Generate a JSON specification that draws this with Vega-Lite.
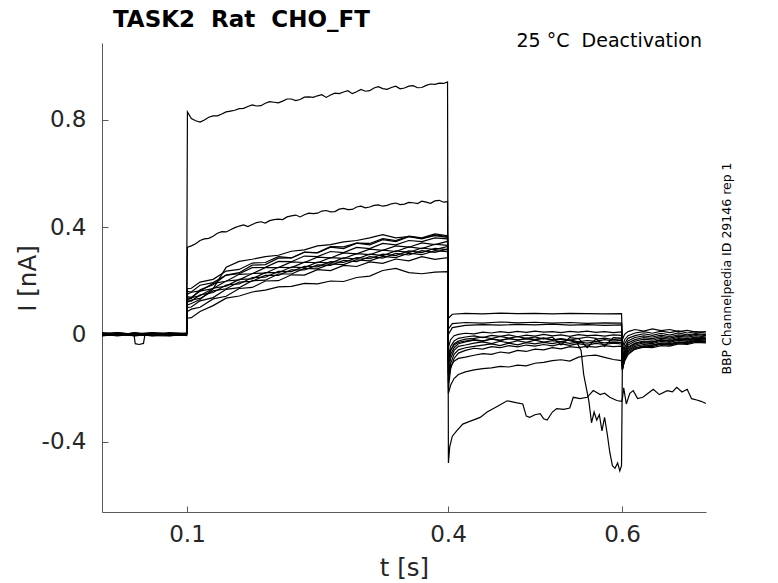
{
  "$schema": "https://vega.github.io/schema/vega-lite/v6.json",
  "width": 604,
  "height": 469,
  "autosize": "none",
  "padding": {"left": 102, "top": 43, "right": 72, "bottom": 71},
  "background": "white",
  "data": {
    "values": [
      {"s":1,"t":0.0023,"i":0.004},{"s":1,"t":0.02,"i":-0.003},{"s":1,"t":0.04,"i":0.005},{"s":1,"t":0.06,"i":-0.002},{"s":1,"t":0.08,"i":0.003},{"s":1,"t":0.0995,"i":0.001},
      {"s":1,"t":0.1005,"i":0.83},{"s":1,"t":0.105,"i":0.805},{"s":1,"t":0.11,"i":0.797},{"s":1,"t":0.12,"i":0.8},{"s":1,"t":0.13,"i":0.815},{"s":1,"t":0.14,"i":0.822},{"s":1,"t":0.15,"i":0.833},{"s":1,"t":0.16,"i":0.842},{"s":1,"t":0.17,"i":0.85},{"s":1,"t":0.18,"i":0.852},{"s":1,"t":0.19,"i":0.862},{"s":1,"t":0.2,"i":0.866},{"s":1,"t":0.21,"i":0.87},{"s":1,"t":0.22,"i":0.878},{"s":1,"t":0.23,"i":0.876},{"s":1,"t":0.24,"i":0.886},{"s":1,"t":0.25,"i":0.89},{"s":1,"t":0.26,"i":0.884},{"s":1,"t":0.27,"i":0.9},{"s":1,"t":0.28,"i":0.904},{"s":1,"t":0.29,"i":0.898},{"s":1,"t":0.3,"i":0.914},{"s":1,"t":0.31,"i":0.909},{"s":1,"t":0.32,"i":0.924},{"s":1,"t":0.33,"i":0.914},{"s":1,"t":0.34,"i":0.926},{"s":1,"t":0.35,"i":0.919},{"s":1,"t":0.36,"i":0.928},{"s":1,"t":0.37,"i":0.921},{"s":1,"t":0.38,"i":0.934},{"s":1,"t":0.39,"i":0.937},{"s":1,"t":0.3995,"i":0.942},
      {"s":1,"t":0.115,"i":0.792},{"s":1,"t":0.125,"i":0.81},{"s":1,"t":0.135,"i":0.815},{"s":1,"t":0.145,"i":0.83},{"s":1,"t":0.155,"i":0.836},{"s":1,"t":0.165,"i":0.843},{"s":1,"t":0.175,"i":0.856},{"s":1,"t":0.185,"i":0.853},{"s":1,"t":0.195,"i":0.868},{"s":1,"t":0.205,"i":0.864},{"s":1,"t":0.215,"i":0.878},{"s":1,"t":0.225,"i":0.872},{"s":1,"t":0.235,"i":0.885},{"s":1,"t":0.245,"i":0.884},{"s":1,"t":0.255,"i":0.894},{"s":1,"t":0.265,"i":0.893},{"s":1,"t":0.275,"i":0.898},{"s":1,"t":0.285,"i":0.909},{"s":1,"t":0.295,"i":0.905},{"s":1,"t":0.305,"i":0.907},{"s":1,"t":0.315,"i":0.919},{"s":1,"t":0.325,"i":0.917},{"s":1,"t":0.335,"i":0.921},{"s":1,"t":0.345,"i":0.916},{"s":1,"t":0.355,"i":0.926},{"s":1,"t":0.365,"i":0.92},{"s":1,"t":0.375,"i":0.929},{"s":1,"t":0.385,"i":0.933},{"s":1,"t":0.395,"i":0.936},
      {"s":1,"t":0.4005,"i":-0.48},{"s":1,"t":0.402,"i":-0.42},{"s":1,"t":0.405,"i":-0.38},{"s":1,"t":0.41,"i":-0.36},{"s":1,"t":0.417,"i":-0.335},{"s":1,"t":0.425,"i":-0.325},{"s":1,"t":0.437,"i":-0.31},{"s":1,"t":0.445,"i":-0.29},{"s":1,"t":0.456,"i":-0.27},{"s":1,"t":0.468,"i":-0.248},{"s":1,"t":0.478,"i":-0.255},{"s":1,"t":0.486,"i":-0.26},{"s":1,"t":0.49,"i":-0.305},{"s":1,"t":0.494,"i":-0.31},{"s":1,"t":0.5,"i":-0.3},{"s":1,"t":0.506,"i":-0.296},{"s":1,"t":0.51,"i":-0.315},{"s":1,"t":0.514,"i":-0.32},{"s":1,"t":0.52,"i":-0.29},{"s":1,"t":0.525,"i":-0.277},{"s":1,"t":0.533,"i":-0.28},{"s":1,"t":0.54,"i":-0.275},{"s":1,"t":0.544,"i":-0.235},{"s":1,"t":0.552,"i":-0.24},{"s":1,"t":0.56,"i":-0.235},{"s":1,"t":0.567,"i":-0.21},{"s":1,"t":0.575,"i":-0.225},{"s":1,"t":0.58,"i":-0.22},{"s":1,"t":0.586,"i":-0.235},{"s":1,"t":0.594,"i":-0.247},{"s":1,"t":0.5995,"i":-0.25},
      {"s":1,"t":0.6005,"i":-0.24},{"s":1,"t":0.602,"i":-0.2},{"s":1,"t":0.605,"i":-0.26},{"s":1,"t":0.609,"i":-0.22},{"s":1,"t":0.613,"i":-0.21},{"s":1,"t":0.618,"i":-0.24},{"s":1,"t":0.624,"i":-0.235},{"s":1,"t":0.63,"i":-0.22},{"s":1,"t":0.636,"i":-0.205},{"s":1,"t":0.643,"i":-0.225},{"s":1,"t":0.652,"i":-0.21},{"s":1,"t":0.658,"i":-0.215},{"s":1,"t":0.663,"i":-0.198},{"s":1,"t":0.669,"i":-0.215},{"s":1,"t":0.675,"i":-0.205},{"s":1,"t":0.68,"i":-0.24},{"s":1,"t":0.686,"i":-0.245},{"s":1,"t":0.691,"i":-0.25},{"s":1,"t":0.6965,"i":-0.258},

      {"s":2,"t":0.0023,"i":-0.002},{"s":2,"t":0.02,"i":0.004},{"s":2,"t":0.04,"i":-0.003},{"s":2,"t":0.06,"i":0.003},{"s":2,"t":0.08,"i":-0.005},{"s":2,"t":0.0995,"i":-0.002},
      {"s":2,"t":0.1005,"i":0.325},{"s":2,"t":0.105,"i":0.33},{"s":2,"t":0.11,"i":0.338},{"s":2,"t":0.12,"i":0.356},{"s":2,"t":0.13,"i":0.366},{"s":2,"t":0.14,"i":0.383},{"s":2,"t":0.15,"i":0.39},{"s":2,"t":0.16,"i":0.404},{"s":2,"t":0.17,"i":0.402},{"s":2,"t":0.18,"i":0.417},{"s":2,"t":0.19,"i":0.415},{"s":2,"t":0.2,"i":0.428},{"s":2,"t":0.21,"i":0.428},{"s":2,"t":0.22,"i":0.442},{"s":2,"t":0.23,"i":0.438},{"s":2,"t":0.24,"i":0.452},{"s":2,"t":0.25,"i":0.452},{"s":2,"t":0.26,"i":0.462},{"s":2,"t":0.27,"i":0.458},{"s":2,"t":0.28,"i":0.47},{"s":2,"t":0.29,"i":0.466},{"s":2,"t":0.3,"i":0.478},{"s":2,"t":0.31,"i":0.475},{"s":2,"t":0.32,"i":0.483},{"s":2,"t":0.33,"i":0.481},{"s":2,"t":0.34,"i":0.49},{"s":2,"t":0.35,"i":0.486},{"s":2,"t":0.36,"i":0.491},{"s":2,"t":0.37,"i":0.497},{"s":2,"t":0.38,"i":0.489},{"s":2,"t":0.39,"i":0.5},{"s":2,"t":0.3995,"i":0.495},
      {"s":2,"t":0.115,"i":0.35},{"s":2,"t":0.125,"i":0.358},{"s":2,"t":0.135,"i":0.377},{"s":2,"t":0.145,"i":0.382},{"s":2,"t":0.155,"i":0.398},{"s":2,"t":0.165,"i":0.408},{"s":2,"t":0.175,"i":0.41},{"s":2,"t":0.185,"i":0.42},{"s":2,"t":0.195,"i":0.424},{"s":2,"t":0.205,"i":0.43},{"s":2,"t":0.215,"i":0.438},{"s":2,"t":0.225,"i":0.445},{"s":2,"t":0.235,"i":0.446},{"s":2,"t":0.245,"i":0.45},{"s":2,"t":0.255,"i":0.46},{"s":2,"t":0.265,"i":0.457},{"s":2,"t":0.275,"i":0.467},{"s":2,"t":0.285,"i":0.465},{"s":2,"t":0.295,"i":0.475},{"s":2,"t":0.305,"i":0.472},{"s":2,"t":0.315,"i":0.481},{"s":2,"t":0.325,"i":0.478},{"s":2,"t":0.335,"i":0.487},{"s":2,"t":0.345,"i":0.484},{"s":2,"t":0.355,"i":0.492},{"s":2,"t":0.365,"i":0.488},{"s":2,"t":0.375,"i":0.493},{"s":2,"t":0.385,"i":0.498},{"s":2,"t":0.395,"i":0.493},
      {"s":2,"t":0.4005,"i":-0.22},{"s":2,"t":0.403,"i":-0.19},{"s":2,"t":0.407,"i":-0.165},{"s":2,"t":0.412,"i":-0.15},{"s":2,"t":0.42,"i":-0.14},{"s":2,"t":0.43,"i":-0.133},{"s":2,"t":0.44,"i":-0.128},{"s":2,"t":0.45,"i":-0.125},{"s":2,"t":0.46,"i":-0.12},{"s":2,"t":0.47,"i":-0.122},{"s":2,"t":0.48,"i":-0.115},{"s":2,"t":0.49,"i":-0.118},{"s":2,"t":0.5,"i":-0.108},{"s":2,"t":0.51,"i":-0.105},{"s":2,"t":0.52,"i":-0.098},{"s":2,"t":0.53,"i":-0.095},{"s":2,"t":0.54,"i":-0.1},{"s":2,"t":0.55,"i":-0.085},{"s":2,"t":0.56,"i":-0.08},{"s":2,"t":0.57,"i":-0.078},{"s":2,"t":0.58,"i":-0.086},{"s":2,"t":0.59,"i":-0.094},{"s":2,"t":0.5995,"i":-0.098},
      {"s":2,"t":0.6005,"i":-0.13},{"s":2,"t":0.603,"i":-0.1},{"s":2,"t":0.607,"i":-0.075},{"s":2,"t":0.615,"i":-0.055},{"s":2,"t":0.625,"i":-0.045},{"s":2,"t":0.635,"i":-0.04},{"s":2,"t":0.645,"i":-0.035},{"s":2,"t":0.655,"i":-0.038},{"s":2,"t":0.665,"i":-0.03},{"s":2,"t":0.675,"i":-0.032},{"s":2,"t":0.685,"i":-0.025},{"s":2,"t":0.6965,"i":-0.028},

      {"s":3,"t":0.0023,"i":0.006},{"s":3,"t":0.02,"i":0.001},{"s":3,"t":0.04,"i":-0.004},{"s":3,"t":0.06,"i":0.004},{"s":3,"t":0.08,"i":0.002},{"s":3,"t":0.0995,"i":0.004},
      {"s":3,"t":0.1005,"i":0.17},{"s":3,"t":0.105,"i":0.172},{"s":3,"t":0.115,"i":0.195},{"s":3,"t":0.13,"i":0.205},{"s":3,"t":0.145,"i":0.236},{"s":3,"t":0.16,"i":0.242},{"s":3,"t":0.175,"i":0.266},{"s":3,"t":0.19,"i":0.268},{"s":3,"t":0.205,"i":0.29},{"s":3,"t":0.22,"i":0.285},{"s":3,"t":0.235,"i":0.306},{"s":3,"t":0.25,"i":0.305},{"s":3,"t":0.265,"i":0.327},{"s":3,"t":0.28,"i":0.326},{"s":3,"t":0.295,"i":0.34},{"s":3,"t":0.31,"i":0.339},{"s":3,"t":0.325,"i":0.357},{"s":3,"t":0.34,"i":0.35},{"s":3,"t":0.355,"i":0.366},{"s":3,"t":0.37,"i":0.36},{"s":3,"t":0.385,"i":0.375},{"s":3,"t":0.3995,"i":0.368},
      {"s":3,"t":0.4005,"i":0.06},{"s":3,"t":0.405,"i":0.075},{"s":3,"t":0.42,"i":0.078},{"s":3,"t":0.44,"i":0.076},{"s":3,"t":0.46,"i":0.079},{"s":3,"t":0.48,"i":0.077},{"s":3,"t":0.5,"i":0.078},{"s":3,"t":0.52,"i":0.076},{"s":3,"t":0.54,"i":0.078},{"s":3,"t":0.56,"i":0.077},{"s":3,"t":0.58,"i":0.076},{"s":3,"t":0.5995,"i":0.077},
      {"s":3,"t":0.6005,"i":-0.02},{"s":3,"t":0.603,"i":0.0},{"s":3,"t":0.607,"i":0.01},{"s":3,"t":0.615,"i":0.018},{"s":3,"t":0.625,"i":0.012},{"s":3,"t":0.635,"i":0.02},{"s":3,"t":0.645,"i":0.014},{"s":3,"t":0.655,"i":0.018},{"s":3,"t":0.665,"i":0.01},{"s":3,"t":0.675,"i":0.015},{"s":3,"t":0.685,"i":0.008},{"s":3,"t":0.6965,"i":0.01},

      {"s":4,"t":0.0023,"i":-0.005},{"s":4,"t":0.02,"i":0.002},{"s":4,"t":0.04,"i":0.003},{"s":4,"t":0.06,"i":-0.006},{"s":4,"t":0.08,"i":0.001},{"s":4,"t":0.0995,"i":-0.001},
      {"s":4,"t":0.1005,"i":0.16},{"s":4,"t":0.105,"i":0.158},{"s":4,"t":0.115,"i":0.183},{"s":4,"t":0.13,"i":0.193},{"s":4,"t":0.145,"i":0.221},{"s":4,"t":0.16,"i":0.226},{"s":4,"t":0.175,"i":0.249},{"s":4,"t":0.19,"i":0.25},{"s":4,"t":0.205,"i":0.272},{"s":4,"t":0.22,"i":0.271},{"s":4,"t":0.235,"i":0.292},{"s":4,"t":0.25,"i":0.29},{"s":4,"t":0.265,"i":0.309},{"s":4,"t":0.28,"i":0.305},{"s":4,"t":0.295,"i":0.324},{"s":4,"t":0.31,"i":0.32},{"s":4,"t":0.325,"i":0.339},{"s":4,"t":0.34,"i":0.334},{"s":4,"t":0.355,"i":0.35},{"s":4,"t":0.37,"i":0.346},{"s":4,"t":0.385,"i":0.36},{"s":4,"t":0.3995,"i":0.356},
      {"s":4,"t":0.4005,"i":-0.09},{"s":4,"t":0.403,"i":-0.06},{"s":4,"t":0.407,"i":-0.04},{"s":4,"t":0.412,"i":-0.03},{"s":4,"t":0.42,"i":-0.025},{"s":4,"t":0.43,"i":-0.02},{"s":4,"t":0.44,"i":-0.024},{"s":4,"t":0.45,"i":-0.018},{"s":4,"t":0.46,"i":-0.022},{"s":4,"t":0.47,"i":-0.016},{"s":4,"t":0.48,"i":-0.021},{"s":4,"t":0.49,"i":-0.017},{"s":4,"t":0.5,"i":-0.02},{"s":4,"t":0.51,"i":-0.015},{"s":4,"t":0.52,"i":-0.022},{"s":4,"t":0.53,"i":-0.018},{"s":4,"t":0.54,"i":-0.024},{"s":4,"t":0.548,"i":-0.03},{"s":4,"t":0.553,"i":-0.06},{"s":4,"t":0.556,"i":-0.15},{"s":4,"t":0.559,"i":-0.2},{"s":4,"t":0.562,"i":-0.25},{"s":4,"t":0.565,"i":-0.33},{"s":4,"t":0.568,"i":-0.29},{"s":4,"t":0.571,"i":-0.32},{"s":4,"t":0.574,"i":-0.3},{"s":4,"t":0.577,"i":-0.36},{"s":4,"t":0.58,"i":-0.31},{"s":4,"t":0.583,"i":-0.37},{"s":4,"t":0.586,"i":-0.44},{"s":4,"t":0.589,"i":-0.49},{"s":4,"t":0.592,"i":-0.5},{"s":4,"t":0.595,"i":-0.48},{"s":4,"t":0.5975,"i":-0.51},{"s":4,"t":0.5995,"i":-0.49},
      {"s":4,"t":0.6005,"i":-0.1},{"s":4,"t":0.603,"i":-0.07},{"s":4,"t":0.607,"i":-0.05},{"s":4,"t":0.615,"i":-0.035},{"s":4,"t":0.625,"i":-0.028},{"s":4,"t":0.635,"i":-0.03},{"s":4,"t":0.645,"i":-0.022},{"s":4,"t":0.655,"i":-0.026},{"s":4,"t":0.665,"i":-0.018},{"s":4,"t":0.675,"i":-0.022},{"s":4,"t":0.685,"i":-0.015},{"s":4,"t":0.6965,"i":-0.018},

      {"s":5,"t":0.0023,"i":0.001},{"s":5,"t":0.02,"i":-0.006},{"s":5,"t":0.04,"i":0.002},{"s":5,"t":0.06,"i":0.001},{"s":5,"t":0.08,"i":-0.003},{"s":5,"t":0.0995,"i":0.003},
      {"s":5,"t":0.1005,"i":0.15},{"s":5,"t":0.105,"i":0.157},{"s":5,"t":0.115,"i":0.162},{"s":5,"t":0.13,"i":0.19},{"s":5,"t":0.145,"i":0.198},{"s":5,"t":0.16,"i":0.224},{"s":5,"t":0.175,"i":0.226},{"s":5,"t":0.19,"i":0.249},{"s":5,"t":0.205,"i":0.249},{"s":5,"t":0.22,"i":0.27},{"s":5,"t":0.235,"i":0.268},{"s":5,"t":0.25,"i":0.288},{"s":5,"t":0.265,"i":0.285},{"s":5,"t":0.28,"i":0.304},{"s":5,"t":0.295,"i":0.3},{"s":5,"t":0.31,"i":0.318},{"s":5,"t":0.325,"i":0.313},{"s":5,"t":0.34,"i":0.33},{"s":5,"t":0.355,"i":0.325},{"s":5,"t":0.37,"i":0.341},{"s":5,"t":0.385,"i":0.335},{"s":5,"t":0.3995,"i":0.347},
      {"s":5,"t":0.4005,"i":0.02},{"s":5,"t":0.405,"i":0.04},{"s":5,"t":0.42,"i":0.044},{"s":5,"t":0.44,"i":0.042},{"s":5,"t":0.46,"i":0.046},{"s":5,"t":0.48,"i":0.043},{"s":5,"t":0.5,"i":0.045},{"s":5,"t":0.52,"i":0.042},{"s":5,"t":0.54,"i":0.044},{"s":5,"t":0.56,"i":0.041},{"s":5,"t":0.58,"i":0.043},{"s":5,"t":0.5995,"i":0.042},
      {"s":5,"t":0.6005,"i":-0.05},{"s":5,"t":0.603,"i":-0.02},{"s":5,"t":0.607,"i":-0.005},{"s":5,"t":0.615,"i":0.005},{"s":5,"t":0.625,"i":0.01},{"s":5,"t":0.635,"i":0.004},{"s":5,"t":0.645,"i":0.012},{"s":5,"t":0.655,"i":0.006},{"s":5,"t":0.665,"i":0.013},{"s":5,"t":0.675,"i":0.005},{"s":5,"t":0.685,"i":0.01},{"s":5,"t":0.6965,"i":0.004},

      {"s":6,"t":0.0023,"i":0.002},{"s":6,"t":0.02,"i":0.004},{"s":6,"t":0.039,"i":0.001},{"s":6,"t":0.0405,"i":-0.035},{"s":6,"t":0.045,"i":-0.038},{"s":6,"t":0.05,"i":-0.034},{"s":6,"t":0.0515,"i":-0.004},{"s":6,"t":0.06,"i":0.003},{"s":6,"t":0.08,"i":-0.003},{"s":6,"t":0.0995,"i":0.0},
      {"s":6,"t":0.1005,"i":0.14},{"s":6,"t":0.105,"i":0.138},{"s":6,"t":0.115,"i":0.161},{"s":6,"t":0.13,"i":0.171},{"s":6,"t":0.145,"i":0.199},{"s":6,"t":0.16,"i":0.203},{"s":6,"t":0.175,"i":0.227},{"s":6,"t":0.19,"i":0.228},{"s":6,"t":0.205,"i":0.25},{"s":6,"t":0.22,"i":0.249},{"s":6,"t":0.235,"i":0.269},{"s":6,"t":0.25,"i":0.267},{"s":6,"t":0.265,"i":0.286},{"s":6,"t":0.28,"i":0.283},{"s":6,"t":0.295,"i":0.301},{"s":6,"t":0.31,"i":0.297},{"s":6,"t":0.325,"i":0.314},{"s":6,"t":0.34,"i":0.309},{"s":6,"t":0.355,"i":0.326},{"s":6,"t":0.37,"i":0.32},{"s":6,"t":0.385,"i":0.336},{"s":6,"t":0.3995,"i":0.332},
      {"s":6,"t":0.4005,"i":-0.15},{"s":6,"t":0.403,"i":-0.12},{"s":6,"t":0.407,"i":-0.1},{"s":6,"t":0.412,"i":-0.09},{"s":6,"t":0.42,"i":-0.085},{"s":6,"t":0.43,"i":-0.078},{"s":6,"t":0.44,"i":-0.072},{"s":6,"t":0.45,"i":-0.075},{"s":6,"t":0.46,"i":-0.066},{"s":6,"t":0.47,"i":-0.07},{"s":6,"t":0.48,"i":-0.06},{"s":6,"t":0.49,"i":-0.064},{"s":6,"t":0.5,"i":-0.055},{"s":6,"t":0.51,"i":-0.058},{"s":6,"t":0.52,"i":-0.05},{"s":6,"t":0.53,"i":-0.054},{"s":6,"t":0.54,"i":-0.046},{"s":6,"t":0.55,"i":-0.05},{"s":6,"t":0.56,"i":-0.045},{"s":6,"t":0.57,"i":-0.048},{"s":6,"t":0.58,"i":-0.042},{"s":6,"t":0.59,"i":-0.046},{"s":6,"t":0.5995,"i":-0.044},
      {"s":6,"t":0.6005,"i":-0.12},{"s":6,"t":0.603,"i":-0.09},{"s":6,"t":0.607,"i":-0.07},{"s":6,"t":0.615,"i":-0.055},{"s":6,"t":0.625,"i":-0.048},{"s":6,"t":0.635,"i":-0.05},{"s":6,"t":0.645,"i":-0.042},{"s":6,"t":0.655,"i":-0.044},{"s":6,"t":0.665,"i":-0.036},{"s":6,"t":0.675,"i":-0.038},{"s":6,"t":0.685,"i":-0.03},{"s":6,"t":0.6965,"i":-0.032},

      {"s":7,"t":0.0023,"i":-0.003},{"s":7,"t":0.02,"i":0.005},{"s":7,"t":0.04,"i":0.001},{"s":7,"t":0.06,"i":-0.004},{"s":7,"t":0.08,"i":0.006},{"s":7,"t":0.0995,"i":0.002},
      {"s":7,"t":0.1005,"i":0.13},{"s":7,"t":0.105,"i":0.137},{"s":7,"t":0.115,"i":0.144},{"s":7,"t":0.13,"i":0.172},{"s":7,"t":0.145,"i":0.18},{"s":7,"t":0.16,"i":0.205},{"s":7,"t":0.175,"i":0.207},{"s":7,"t":0.19,"i":0.23},{"s":7,"t":0.205,"i":0.23},{"s":7,"t":0.22,"i":0.251},{"s":7,"t":0.235,"i":0.249},{"s":7,"t":0.25,"i":0.269},{"s":7,"t":0.265,"i":0.266},{"s":7,"t":0.28,"i":0.285},{"s":7,"t":0.295,"i":0.281},{"s":7,"t":0.31,"i":0.299},{"s":7,"t":0.325,"i":0.294},{"s":7,"t":0.34,"i":0.311},{"s":7,"t":0.355,"i":0.306},{"s":7,"t":0.37,"i":0.322},{"s":7,"t":0.385,"i":0.316},{"s":7,"t":0.3995,"i":0.328},
      {"s":7,"t":0.4005,"i":0.0},{"s":7,"t":0.405,"i":0.025},{"s":7,"t":0.42,"i":0.033},{"s":7,"t":0.44,"i":0.036},{"s":7,"t":0.46,"i":0.034},{"s":7,"t":0.48,"i":0.037},{"s":7,"t":0.5,"i":0.035},{"s":7,"t":0.52,"i":0.038},{"s":7,"t":0.54,"i":0.034},{"s":7,"t":0.56,"i":0.036},{"s":7,"t":0.58,"i":0.033},{"s":7,"t":0.5995,"i":0.035},
      {"s":7,"t":0.6005,"i":-0.07},{"s":7,"t":0.603,"i":-0.035},{"s":7,"t":0.607,"i":-0.015},{"s":7,"t":0.615,"i":-0.005},{"s":7,"t":0.625,"i":0.002},{"s":7,"t":0.635,"i":-0.004},{"s":7,"t":0.645,"i":0.004},{"s":7,"t":0.655,"i":-0.003},{"s":7,"t":0.665,"i":0.005},{"s":7,"t":0.675,"i":-0.002},{"s":7,"t":0.685,"i":0.003},{"s":7,"t":0.6965,"i":-0.001},

      {"s":8,"t":0.0023,"i":0.003},{"s":8,"t":0.02,"i":-0.002},{"s":8,"t":0.04,"i":-0.005},{"s":8,"t":0.06,"i":0.002},{"s":8,"t":0.08,"i":-0.001},{"s":8,"t":0.0995,"i":-0.003},
      {"s":8,"t":0.1005,"i":0.125},{"s":8,"t":0.105,"i":0.124},{"s":8,"t":0.115,"i":0.147},{"s":8,"t":0.13,"i":0.156},{"s":8,"t":0.145,"i":0.184},{"s":8,"t":0.16,"i":0.188},{"s":8,"t":0.175,"i":0.212},{"s":8,"t":0.19,"i":0.213},{"s":8,"t":0.205,"i":0.235},{"s":8,"t":0.22,"i":0.234},{"s":8,"t":0.235,"i":0.254},{"s":8,"t":0.25,"i":0.252},{"s":8,"t":0.265,"i":0.271},{"s":8,"t":0.28,"i":0.268},{"s":8,"t":0.295,"i":0.286},{"s":8,"t":0.31,"i":0.282},{"s":8,"t":0.325,"i":0.299},{"s":8,"t":0.34,"i":0.294},{"s":8,"t":0.355,"i":0.311},{"s":8,"t":0.37,"i":0.305},{"s":8,"t":0.385,"i":0.321},{"s":8,"t":0.3995,"i":0.316},
      {"s":8,"t":0.4005,"i":-0.05},{"s":8,"t":0.403,"i":-0.02},{"s":8,"t":0.407,"i":-0.005},{"s":8,"t":0.412,"i":0.0},{"s":8,"t":0.42,"i":0.004},{"s":8,"t":0.43,"i":0.002},{"s":8,"t":0.44,"i":0.008},{"s":8,"t":0.45,"i":0.005},{"s":8,"t":0.46,"i":0.01},{"s":8,"t":0.47,"i":0.006},{"s":8,"t":0.48,"i":0.011},{"s":8,"t":0.49,"i":0.007},{"s":8,"t":0.5,"i":0.012},{"s":8,"t":0.51,"i":0.008},{"s":8,"t":0.52,"i":0.01},{"s":8,"t":0.53,"i":0.006},{"s":8,"t":0.54,"i":0.011},{"s":8,"t":0.55,"i":0.008},{"s":8,"t":0.56,"i":0.012},{"s":8,"t":0.57,"i":0.007},{"s":8,"t":0.58,"i":0.01},{"s":8,"t":0.59,"i":0.006},{"s":8,"t":0.5995,"i":0.009},
      {"s":8,"t":0.6005,"i":-0.09},{"s":8,"t":0.603,"i":-0.05},{"s":8,"t":0.607,"i":-0.025},{"s":8,"t":0.615,"i":-0.012},{"s":8,"t":0.625,"i":-0.006},{"s":8,"t":0.635,"i":-0.01},{"s":8,"t":0.645,"i":-0.003},{"s":8,"t":0.655,"i":-0.009},{"s":8,"t":0.665,"i":-0.002},{"s":8,"t":0.675,"i":-0.007},{"s":8,"t":0.685,"i":0.0},{"s":8,"t":0.6965,"i":-0.005},

      {"s":9,"t":0.0023,"i":-0.006},{"s":9,"t":0.02,"i":0.0},{"s":9,"t":0.04,"i":0.004},{"s":9,"t":0.06,"i":-0.001},{"s":9,"t":0.08,"i":0.005},{"s":9,"t":0.0995,"i":0.004},
      {"s":9,"t":0.1005,"i":0.12},{"s":9,"t":0.105,"i":0.128},{"s":9,"t":0.115,"i":0.134},{"s":9,"t":0.13,"i":0.162},{"s":9,"t":0.145,"i":0.17},{"s":9,"t":0.16,"i":0.195},{"s":9,"t":0.175,"i":0.198},{"s":9,"t":0.19,"i":0.22},{"s":9,"t":0.205,"i":0.22},{"s":9,"t":0.22,"i":0.241},{"s":9,"t":0.235,"i":0.24},{"s":9,"t":0.25,"i":0.259},{"s":9,"t":0.265,"i":0.257},{"s":9,"t":0.28,"i":0.276},{"s":9,"t":0.295,"i":0.271},{"s":9,"t":0.31,"i":0.29},{"s":9,"t":0.325,"i":0.284},{"s":9,"t":0.34,"i":0.302},{"s":9,"t":0.355,"i":0.296},{"s":9,"t":0.37,"i":0.312},{"s":9,"t":0.385,"i":0.306},{"s":9,"t":0.3995,"i":0.318},
      {"s":9,"t":0.4005,"i":-0.08},{"s":9,"t":0.403,"i":-0.045},{"s":9,"t":0.407,"i":-0.025},{"s":9,"t":0.412,"i":-0.015},{"s":9,"t":0.42,"i":-0.01},{"s":9,"t":0.43,"i":-0.006},{"s":9,"t":0.44,"i":-0.012},{"s":9,"t":0.45,"i":-0.004},{"s":9,"t":0.46,"i":-0.008},{"s":9,"t":0.47,"i":-0.002},{"s":9,"t":0.48,"i":-0.009},{"s":9,"t":0.49,"i":-0.003},{"s":9,"t":0.5,"i":-0.007},{"s":9,"t":0.51,"i":0.0},{"s":9,"t":0.52,"i":-0.006},{"s":9,"t":0.53,"i":-0.002},{"s":9,"t":0.54,"i":-0.008},{"s":9,"t":0.55,"i":-0.001},{"s":9,"t":0.56,"i":-0.005},{"s":9,"t":0.57,"i":-0.003},{"s":9,"t":0.58,"i":-0.007},{"s":9,"t":0.59,"i":-0.002},{"s":9,"t":0.5995,"i":-0.004},
      {"s":9,"t":0.6005,"i":-0.1},{"s":9,"t":0.603,"i":-0.06},{"s":9,"t":0.607,"i":-0.032},{"s":9,"t":0.615,"i":-0.02},{"s":9,"t":0.625,"i":-0.012},{"s":9,"t":0.635,"i":-0.016},{"s":9,"t":0.645,"i":-0.009},{"s":9,"t":0.655,"i":-0.014},{"s":9,"t":0.665,"i":-0.007},{"s":9,"t":0.675,"i":-0.011},{"s":9,"t":0.685,"i":-0.005},{"s":9,"t":0.6965,"i":-0.01},

      {"s":10,"t":0.0023,"i":0.002},{"s":10,"t":0.02,"i":0.006},{"s":10,"t":0.04,"i":-0.001},{"s":10,"t":0.06,"i":0.005},{"s":10,"t":0.08,"i":-0.004},{"s":10,"t":0.0995,"i":-0.004},
      {"s":10,"t":0.1005,"i":0.11},{"s":10,"t":0.105,"i":0.115},{"s":10,"t":0.115,"i":0.13},{"s":10,"t":0.13,"i":0.17},{"s":10,"t":0.145,"i":0.25},{"s":10,"t":0.16,"i":0.272},{"s":10,"t":0.175,"i":0.28},{"s":10,"t":0.19,"i":0.29},{"s":10,"t":0.205,"i":0.295},{"s":10,"t":0.22,"i":0.31},{"s":10,"t":0.235,"i":0.315},{"s":10,"t":0.25,"i":0.33},{"s":10,"t":0.265,"i":0.335},{"s":10,"t":0.28,"i":0.345},{"s":10,"t":0.295,"i":0.35},{"s":10,"t":0.31,"i":0.36},{"s":10,"t":0.325,"i":0.372},{"s":10,"t":0.34,"i":0.36},{"s":10,"t":0.355,"i":0.365},{"s":10,"t":0.37,"i":0.358},{"s":10,"t":0.385,"i":0.368},{"s":10,"t":0.3995,"i":0.362},
      {"s":10,"t":0.4005,"i":-0.1},{"s":10,"t":0.403,"i":-0.06},{"s":10,"t":0.407,"i":-0.035},{"s":10,"t":0.412,"i":-0.025},{"s":10,"t":0.42,"i":-0.018},{"s":10,"t":0.43,"i":-0.015},{"s":10,"t":0.44,"i":-0.01},{"s":10,"t":0.45,"i":-0.016},{"s":10,"t":0.46,"i":-0.008},{"s":10,"t":0.47,"i":-0.014},{"s":10,"t":0.48,"i":-0.009},{"s":10,"t":0.49,"i":-0.015},{"s":10,"t":0.5,"i":-0.01},{"s":10,"t":0.51,"i":-0.017},{"s":10,"t":0.52,"i":-0.011},{"s":10,"t":0.53,"i":-0.04},{"s":10,"t":0.54,"i":-0.012},{"s":10,"t":0.55,"i":-0.016},{"s":10,"t":0.56,"i":-0.01},{"s":10,"t":0.57,"i":-0.015},{"s":10,"t":0.58,"i":-0.045},{"s":10,"t":0.59,"i":-0.012},{"s":10,"t":0.5995,"i":-0.014},
      {"s":10,"t":0.6005,"i":-0.11},{"s":10,"t":0.603,"i":-0.07},{"s":10,"t":0.607,"i":-0.04},{"s":10,"t":0.615,"i":-0.026},{"s":10,"t":0.625,"i":-0.018},{"s":10,"t":0.635,"i":-0.022},{"s":10,"t":0.645,"i":-0.014},{"s":10,"t":0.655,"i":-0.019},{"s":10,"t":0.665,"i":-0.012},{"s":10,"t":0.675,"i":-0.016},{"s":10,"t":0.685,"i":-0.01},{"s":10,"t":0.6965,"i":-0.013},

      {"s":11,"t":0.0023,"i":-0.001},{"s":11,"t":0.02,"i":-0.004},{"s":11,"t":0.04,"i":0.006},{"s":11,"t":0.06,"i":-0.003},{"s":11,"t":0.08,"i":0.002},{"s":11,"t":0.0995,"i":0.002},
      {"s":11,"t":0.1005,"i":0.1},{"s":11,"t":0.105,"i":0.102},{"s":11,"t":0.115,"i":0.125},{"s":11,"t":0.13,"i":0.137},{"s":11,"t":0.145,"i":0.168},{"s":11,"t":0.16,"i":0.174},{"s":11,"t":0.175,"i":0.2},{"s":11,"t":0.19,"i":0.202},{"s":11,"t":0.205,"i":0.225},{"s":11,"t":0.22,"i":0.225},{"s":11,"t":0.235,"i":0.246},{"s":11,"t":0.25,"i":0.244},{"s":11,"t":0.265,"i":0.263},{"s":11,"t":0.28,"i":0.26},{"s":11,"t":0.295,"i":0.278},{"s":11,"t":0.31,"i":0.274},{"s":11,"t":0.325,"i":0.291},{"s":11,"t":0.34,"i":0.286},{"s":11,"t":0.355,"i":0.303},{"s":11,"t":0.37,"i":0.297},{"s":11,"t":0.385,"i":0.312},{"s":11,"t":0.3995,"i":0.308},
      {"s":11,"t":0.4005,"i":-0.12},{"s":11,"t":0.403,"i":-0.075},{"s":11,"t":0.407,"i":-0.05},{"s":11,"t":0.412,"i":-0.035},{"s":11,"t":0.42,"i":-0.028},{"s":11,"t":0.43,"i":-0.022},{"s":11,"t":0.44,"i":-0.026},{"s":11,"t":0.45,"i":-0.017},{"s":11,"t":0.46,"i":-0.024},{"s":11,"t":0.47,"i":-0.015},{"s":11,"t":0.48,"i":-0.022},{"s":11,"t":0.49,"i":-0.014},{"s":11,"t":0.5,"i":-0.02},{"s":11,"t":0.51,"i":-0.013},{"s":11,"t":0.52,"i":-0.021},{"s":11,"t":0.53,"i":-0.016},{"s":11,"t":0.54,"i":-0.022},{"s":11,"t":0.55,"i":-0.015},{"s":11,"t":0.56,"i":-0.05},{"s":11,"t":0.57,"i":-0.018},{"s":11,"t":0.58,"i":-0.014},{"s":11,"t":0.59,"i":-0.02},{"s":11,"t":0.5995,"i":-0.016},
      {"s":11,"t":0.6005,"i":-0.12},{"s":11,"t":0.603,"i":-0.08},{"s":11,"t":0.607,"i":-0.048},{"s":11,"t":0.615,"i":-0.033},{"s":11,"t":0.625,"i":-0.025},{"s":11,"t":0.635,"i":-0.028},{"s":11,"t":0.645,"i":-0.02},{"s":11,"t":0.655,"i":-0.024},{"s":11,"t":0.665,"i":-0.016},{"s":11,"t":0.675,"i":-0.021},{"s":11,"t":0.685,"i":-0.013},{"s":11,"t":0.6965,"i":-0.017},

      {"s":12,"t":0.0023,"i":0.005},{"s":12,"t":0.02,"i":0.003},{"s":12,"t":0.04,"i":-0.006},{"s":12,"t":0.06,"i":0.001},{"s":12,"t":0.08,"i":-0.002},{"s":12,"t":0.0995,"i":0.005},
      {"s":12,"t":0.1005,"i":0.085},{"s":12,"t":0.105,"i":0.094},{"s":12,"t":0.115,"i":0.101},{"s":12,"t":0.13,"i":0.132},{"s":12,"t":0.145,"i":0.142},{"s":12,"t":0.16,"i":0.171},{"s":12,"t":0.175,"i":0.175},{"s":12,"t":0.19,"i":0.199},{"s":12,"t":0.205,"i":0.2},{"s":12,"t":0.22,"i":0.222},{"s":12,"t":0.235,"i":0.221},{"s":12,"t":0.25,"i":0.241},{"s":12,"t":0.265,"i":0.238},{"s":12,"t":0.28,"i":0.257},{"s":12,"t":0.295,"i":0.253},{"s":12,"t":0.31,"i":0.27},{"s":12,"t":0.325,"i":0.265},{"s":12,"t":0.34,"i":0.281},{"s":12,"t":0.355,"i":0.274},{"s":12,"t":0.37,"i":0.29},{"s":12,"t":0.385,"i":0.28},{"s":12,"t":0.3995,"i":0.286},
      {"s":12,"t":0.4005,"i":-0.15},{"s":12,"t":0.403,"i":-0.09},{"s":12,"t":0.407,"i":-0.06},{"s":12,"t":0.412,"i":-0.045},{"s":12,"t":0.42,"i":-0.04},{"s":12,"t":0.43,"i":-0.033},{"s":12,"t":0.44,"i":-0.028},{"s":12,"t":0.45,"i":-0.035},{"s":12,"t":0.46,"i":-0.026},{"s":12,"t":0.47,"i":-0.032},{"s":12,"t":0.48,"i":-0.024},{"s":12,"t":0.49,"i":-0.03},{"s":12,"t":0.5,"i":-0.022},{"s":12,"t":0.51,"i":-0.029},{"s":12,"t":0.52,"i":-0.024},{"s":12,"t":0.53,"i":-0.027},{"s":12,"t":0.54,"i":-0.021},{"s":12,"t":0.55,"i":-0.028},{"s":12,"t":0.56,"i":-0.023},{"s":12,"t":0.57,"i":-0.026},{"s":12,"t":0.58,"i":-0.02},{"s":12,"t":0.59,"i":-0.025},{"s":12,"t":0.5995,"i":-0.022},
      {"s":12,"t":0.6005,"i":-0.13},{"s":12,"t":0.603,"i":-0.085},{"s":12,"t":0.607,"i":-0.055},{"s":12,"t":0.615,"i":-0.04},{"s":12,"t":0.625,"i":-0.032},{"s":12,"t":0.635,"i":-0.035},{"s":12,"t":0.645,"i":-0.026},{"s":12,"t":0.655,"i":-0.03},{"s":12,"t":0.665,"i":-0.022},{"s":12,"t":0.675,"i":-0.026},{"s":12,"t":0.685,"i":-0.018},{"s":12,"t":0.6965,"i":-0.022},

      {"s":13,"t":0.0023,"i":-0.004},{"s":13,"t":0.02,"i":-0.001},{"s":13,"t":0.04,"i":0.002},{"s":13,"t":0.06,"i":0.006},{"s":13,"t":0.08,"i":0.004},{"s":13,"t":0.0995,"i":-0.005},
      {"s":13,"t":0.1005,"i":0.06},{"s":13,"t":0.105,"i":0.062},{"s":13,"t":0.115,"i":0.085},{"s":13,"t":0.13,"i":0.107},{"s":13,"t":0.145,"i":0.135},{"s":13,"t":0.16,"i":0.143},{"s":13,"t":0.175,"i":0.158},{"s":13,"t":0.19,"i":0.165},{"s":13,"t":0.205,"i":0.177},{"s":13,"t":0.22,"i":0.179},{"s":13,"t":0.235,"i":0.19},{"s":13,"t":0.25,"i":0.188},{"s":13,"t":0.265,"i":0.199},{"s":13,"t":0.28,"i":0.197},{"s":13,"t":0.295,"i":0.212},{"s":13,"t":0.31,"i":0.217},{"s":13,"t":0.325,"i":0.238},{"s":13,"t":0.34,"i":0.246},{"s":13,"t":0.355,"i":0.23},{"s":13,"t":0.37,"i":0.226},{"s":13,"t":0.385,"i":0.232},{"s":13,"t":0.3995,"i":0.234},
      {"s":13,"t":0.4005,"i":-0.18},{"s":13,"t":0.403,"i":-0.11},{"s":13,"t":0.407,"i":-0.075},{"s":13,"t":0.412,"i":-0.058},{"s":13,"t":0.42,"i":-0.05},{"s":13,"t":0.43,"i":-0.045},{"s":13,"t":0.44,"i":-0.04},{"s":13,"t":0.45,"i":-0.036},{"s":13,"t":0.46,"i":-0.042},{"s":13,"t":0.47,"i":-0.033},{"s":13,"t":0.48,"i":-0.039},{"s":13,"t":0.49,"i":-0.031},{"s":13,"t":0.5,"i":-0.036},{"s":13,"t":0.51,"i":-0.03},{"s":13,"t":0.52,"i":-0.035},{"s":13,"t":0.53,"i":-0.028},{"s":13,"t":0.54,"i":-0.034},{"s":13,"t":0.55,"i":-0.029},{"s":13,"t":0.56,"i":-0.033},{"s":13,"t":0.57,"i":-0.027},{"s":13,"t":0.58,"i":-0.032},{"s":13,"t":0.59,"i":-0.029},{"s":13,"t":0.5995,"i":-0.03},
      {"s":13,"t":0.6005,"i":-0.13},{"s":13,"t":0.603,"i":-0.09},{"s":13,"t":0.607,"i":-0.06},{"s":13,"t":0.615,"i":-0.045},{"s":13,"t":0.625,"i":-0.038},{"s":13,"t":0.635,"i":-0.04},{"s":13,"t":0.645,"i":-0.032},{"s":13,"t":0.655,"i":-0.035},{"s":13,"t":0.665,"i":-0.028},{"s":13,"t":0.675,"i":-0.03},{"s":13,"t":0.685,"i":-0.022},{"s":13,"t":0.6965,"i":-0.025},

      {"s":14,"t":0.0023,"i":0.0},{"s":14,"t":0.02,"i":0.005},{"s":14,"t":0.04,"i":-0.002},{"s":14,"t":0.06,"i":-0.005},{"s":14,"t":0.08,"i":-0.006},{"s":14,"t":0.0995,"i":0.003},
      {"s":14,"t":0.1005,"i":0.13},{"s":14,"t":0.105,"i":0.134},{"s":14,"t":0.115,"i":0.166},{"s":14,"t":0.13,"i":0.185},{"s":14,"t":0.145,"i":0.221},{"s":14,"t":0.16,"i":0.23},{"s":14,"t":0.175,"i":0.258},{"s":14,"t":0.19,"i":0.26},{"s":14,"t":0.205,"i":0.284},{"s":14,"t":0.22,"i":0.285},{"s":14,"t":0.235,"i":0.307},{"s":14,"t":0.25,"i":0.304},{"s":14,"t":0.265,"i":0.325},{"s":14,"t":0.28,"i":0.32},{"s":14,"t":0.295,"i":0.34},{"s":14,"t":0.31,"i":0.334},{"s":14,"t":0.325,"i":0.353},{"s":14,"t":0.34,"i":0.346},{"s":14,"t":0.355,"i":0.364},{"s":14,"t":0.37,"i":0.356},{"s":14,"t":0.385,"i":0.371},{"s":14,"t":0.3995,"i":0.365},
      {"s":14,"t":0.4005,"i":-0.2},{"s":14,"t":0.403,"i":-0.13},{"s":14,"t":0.407,"i":-0.09},{"s":14,"t":0.412,"i":-0.07},{"s":14,"t":0.42,"i":-0.06},{"s":14,"t":0.43,"i":-0.052},{"s":14,"t":0.44,"i":-0.055},{"s":14,"t":0.45,"i":-0.046},{"s":14,"t":0.46,"i":-0.05},{"s":14,"t":0.47,"i":-0.042},{"s":14,"t":0.48,"i":-0.047},{"s":14,"t":0.49,"i":-0.04},{"s":14,"t":0.5,"i":-0.044},{"s":14,"t":0.51,"i":-0.038},{"s":14,"t":0.52,"i":-0.043},{"s":14,"t":0.53,"i":-0.036},{"s":14,"t":0.54,"i":-0.041},{"s":14,"t":0.55,"i":-0.035},{"s":14,"t":0.56,"i":-0.04},{"s":14,"t":0.57,"i":-0.034},{"s":14,"t":0.58,"i":-0.038},{"s":14,"t":0.59,"i":-0.033},{"s":14,"t":0.5995,"i":-0.036},
      {"s":14,"t":0.6005,"i":-0.135},{"s":14,"t":0.603,"i":-0.095},{"s":14,"t":0.607,"i":-0.065},{"s":14,"t":0.615,"i":-0.05},{"s":14,"t":0.625,"i":-0.043},{"s":14,"t":0.635,"i":-0.046},{"s":14,"t":0.645,"i":-0.037},{"s":14,"t":0.655,"i":-0.04},{"s":14,"t":0.665,"i":-0.032},{"s":14,"t":0.675,"i":-0.035},{"s":14,"t":0.685,"i":-0.026},{"s":14,"t":0.6965,"i":-0.028}
    ]
  },
  "layer": [
    {
      "mark": {"type": "line", "color": "black", "strokeWidth": 1.2},
      "encoding": {
        "x": {
          "field": "t",
          "type": "quantitative",
          "scale": {"domain": [0.0023, 0.6966], "nice": false, "zero": false},
          "axis": {
            "title": "t [s]",
            "values": [0.1, 0.4, 0.6],
            "labelExpr": "format(datum.value, '.1f')",
            "grid": false,
            "tickSize": -6,
            "labelPadding": 17.6,
            "labelBaseline": "top",
            "titleX": 302,
            "titleY": 63,
            "titleBaseline": "alphabetic"
          }
        },
        "y": {
          "field": "i",
          "type": "quantitative",
          "scale": {"domain": [-0.663, 1.087], "nice": false, "zero": false},
          "axis": {
            "title": "I [nA]",
            "values": [-0.4, 0, 0.4, 0.8],
            "labelExpr": "datum.value == 0 ? '0' : (datum.value < 0 ? '-' + format(-datum.value, '.1f') : format(datum.value, '.1f'))",
            "grid": false,
            "tickSize": -6,
            "labelPadding": 22,
            "titleX": -67,
            "titleY": 235,
            "titleAngle": 270,
            "titleAlign": "center",
            "titleBaseline": "alphabetic"
          }
        },
        "detail": {"field": "s", "type": "nominal"}
      }
    },
    {
      "data": {"values": [{}]},
      "mark": {"type": "text", "align": "left", "baseline": "alphabetic", "font": "DejaVu Sans", "fontSize": 23, "fontWeight": "bold", "color": "black"},
      "encoding": {
        "x": {"datum": 0.0149},
        "y": {"datum": 1.1482},
        "text": {"value": "TASK2\u00a0 Rat\u00a0 CHO_FT"}
      }
    },
    {
      "data": {"values": [{}]},
      "mark": {"type": "text", "align": "right", "baseline": "alphabetic", "font": "DejaVu Sans", "fontSize": 19, "color": "black"},
      "encoding": {
        "x": {"datum": 0.692},
        "y": {"datum": 1.0724},
        "text": {"value": "25 °C\u00a0 Deactivation"}
      }
    },
    {
      "data": {"values": [{}]},
      "mark": {"type": "text", "angle": 270, "align": "center", "baseline": "alphabetic", "font": "DejaVu Sans", "fontSize": 12.5, "color": "black"},
      "encoding": {
        "x": {"datum": 0.7253},
        "y": {"datum": 0.2456},
        "text": {"value": "BBP Channelpedia ID 29146 rep 1"}
      }
    }
  ],
  "config": {
    "view": {"stroke": null},
    "font": "DejaVu Sans",
    "axis": {
      "domainColor": "#5a5a5a",
      "domainWidth": 1,
      "tickColor": "#5a5a5a",
      "tickWidth": 1,
      "labelColor": "#262626",
      "labelFont": "DejaVu Sans",
      "labelFontSize": 23,
      "titleColor": "#262626",
      "titleFont": "DejaVu Sans",
      "titleFontSize": 24.5,
      "titleFontWeight": "normal"
    }
  }
}
